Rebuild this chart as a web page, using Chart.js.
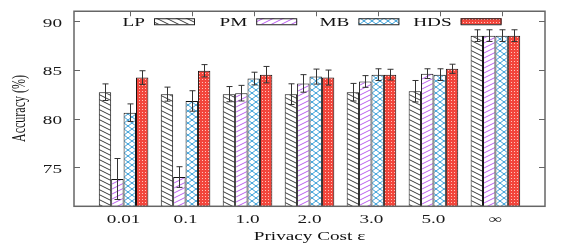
<!DOCTYPE html>
<html><head><meta charset="utf-8">
<script src="https://cdn.jsdelivr.net/npm/chart.js@4.4.0/dist/chart.umd.min.js"></script>
<style>html,body{margin:0;padding:0;background:#fff;overflow:hidden;}</style>
</head><body>
<canvas id="c" width="581" height="245" style="width:581px;height:245px;display:block"></canvas>
<script>
// ---- data ----
const categories = ['0.01', '0.1', '1.0', '2.0', '3.0', '5.0', '∞'];
const seriesNames = ['LP', 'PM', 'MB', 'HDS'];
const lpValues  = [82.7, 82.5, 82.5, 82.5, 82.7, 82.8, 88.5];
const pmValues  = [73.8, 74.0, 82.6, 83.6, 83.8, 84.6, 88.5];
const mbValues  = [80.6, 81.8, 84.1, 84.3, 84.5, 84.5, 88.5];
const hdsValues = [84.2, 84.9, 84.5, 84.2, 84.5, 85.1, 88.5];
const lpErrors  = [0.85, 0.72, 0.78, 1.06, 0.90, 1.10, 0.60];
const pmErrors  = [2.10, 1.06, 0.80, 0.90, 0.60, 0.50, 0.60];
const mbErrors  = [0.90, 1.05, 0.65, 0.77, 0.60, 0.60, 0.60];
const hdsErrors = [0.70, 0.63, 0.84, 0.77, 0.55, 0.47, 0.60];
const yTickValues = [75, 80, 85, 90];
const xAxisTitle = 'Privacy Cost ε';
const yAxisTitle = 'Accuracy (%)';

const seriesValues = [lpValues, pmValues, mbValues, hdsValues];
const seriesErrors = [lpErrors, pmErrors, mbErrors, hdsErrors];

const canvas = document.getElementById('c');
const ctx = canvas.getContext('2d');
const FONT = '12px "Liberation Serif"';
const STRETCH = 1.6;

// ---- fill patterns ----
function makePattern(kind) {
  const t = document.createElement('canvas');
  let w, h;
  if (kind === 'lp' || kind === 'pm') { w = 10; h = 5; }
  else if (kind === 'mb') { w = 8; h = 6; }
  else { w = 3; h = 3; }
  t.width = w; t.height = h;
  const g = t.getContext('2d');
  g.fillStyle = '#ffffff';
  g.fillRect(0, 0, w, h);
  g.lineWidth = 1;
  const diag = (dir, color) => {
    g.strokeStyle = color;
    for (let o = -w; o <= w; o += w) {
      g.beginPath();
      if (dir > 0) { g.moveTo(o - w, -h); g.lineTo(o + 2 * w, 2 * h); }
      else { g.moveTo(o - w, 2 * h); g.lineTo(o + 2 * w, -h); }
      g.stroke();
    }
  };
  if (kind === 'lp') diag(1, '#3a3a3a');
  else if (kind === 'pm') diag(-1, '#bb5cf0');
  else if (kind === 'mb') { diag(1, '#3a9fd8'); diag(-1, '#3a9fd8'); }
  else {
    g.fillStyle = '#f2463c';
    g.fillRect(0, 0, w, h);
    g.fillStyle = '#ffc4bc';
    g.fillRect(1, 1, 1, 1);
  }
  return ctx.createPattern(t, 'repeat');
}
const patterns = [makePattern('lp'), makePattern('pm'), makePattern('mb'), makePattern('hds')];

function stretchedText(c, text, x, y, align) {
  c.save();
  c.textAlign = align;
  c.translate(x, y);
  c.scale(STRETCH, 1);
  c.fillText(text, 0, 0);
  c.restore();
}

// ---- plugins ----
const errorBars = {
  id: 'errorBars',
  afterDatasetsDraw(chart) {
    const c = chart.ctx;
    const ys = chart.scales.y;
    c.save();
    c.strokeStyle = '#333';
    c.lineWidth = 1;
    chart.data.datasets.forEach((ds, k) => {
      const meta = chart.getDatasetMeta(k);
      meta.data.forEach((bar, i) => {
        const v = seriesValues[k][i], e = seriesErrors[k][i];
        const x = Math.round(bar.x) + 0.5;
        const yt = ys.getPixelForValue(v + e);
        const yb = ys.getPixelForValue(v - e);
        c.beginPath();
        c.moveTo(x, yt); c.lineTo(x, yb);
        c.moveTo(x - 3, yt); c.lineTo(x + 3, yt);
        c.moveTo(x - 3, yb); c.lineTo(x + 3, yb);
        c.stroke();
      });
    });
    c.restore();
  }
};

const frame = {
  id: 'frame',
  afterDraw(chart) {
    const c = chart.ctx;
    const a = chart.chartArea;
    const xs = chart.scales.x, ys = chart.scales.y;
    c.save();
    c.strokeStyle = '#666';
    c.lineWidth = 1.5;
    c.strokeRect(a.left, a.top, a.right - a.left, a.bottom - a.top);
    c.lineWidth = 1;
    c.beginPath();
    ys.ticks.forEach(t => {
      const y = Math.round(ys.getPixelForValue(t.value)) + 0.5;
      c.moveTo(a.left, y); c.lineTo(a.left + 6, y);
      c.moveTo(a.right, y); c.lineTo(a.right - 6, y);
    });
    xs.ticks.forEach(t => {
      const x = Math.round(xs.getPixelForValue(t.value + 0.1)) + 0.5;
      c.moveTo(x, a.top); c.lineTo(x, a.top + 5);
    });
    c.stroke();

    c.font = FONT;
    c.fillStyle = '#1a1a1a';
    c.textBaseline = 'alphabetic';

    // tick labels from the library's scales
    xs.ticks.forEach(t => {
      const lbl = t.label !== undefined && t.label !== '' ? t.label : categories[t.value];
      stretchedText(c, String(lbl), xs.getPixelForValue(t.value), 222.5, 'center');
    });
    ys.ticks.forEach(t => {
      const lbl = t.label !== undefined && t.label !== '' ? t.label : String(t.value);
      stretchedText(c, String(lbl), 62, ys.getPixelForValue(t.value) + 5.5, 'right');
    });

    // legend (label left of swatch, inside plot area)
    seriesNames.forEach((name, k) => {
      const sx = a.left + 80 + k * 102.2;
      const sy = a.top + 7;
      c.fillStyle = '#111';
      stretchedText(c, name, sx - 9, a.top + 15, 'right');
      c.fillStyle = patterns[k];
      c.fillRect(sx, sy, 41, 6);
      c.strokeStyle = '#222';
      c.strokeRect(sx + 0.5, sy + 0.5, 40, 6);
    });

    // axis titles
    c.fillStyle = '#111';
    stretchedText(c, xAxisTitle, (a.left + a.right) / 2, 239.5, 'center');

    c.save();
    c.textAlign = 'center';
    c.translate(25, 108.5);
    c.rotate(-Math.PI / 2);
    c.scale(1, STRETCH);
    c.fillText(yAxisTitle, 0, 0);
    c.restore();

    c.restore();
  }
};

new Chart(ctx, {
  type: 'bar',
  data: {
    datasets: seriesNames.map((name, k) => ({
      label: name,
      data: categories.map((cat, i) => ({ x: i, y: seriesValues[k][i] })),
      backgroundColor: patterns[k],
      borderColor: '#111',
      borderWidth: 1,
      borderSkipped: 'start',
      categoryPercentage: 0.8,
      barPercentage: 1.0
    }))
  },
  options: {
    responsive: false,
    animation: false,
    devicePixelRatio: 1,
    layout: { padding: { top: 11.25, right: 36, left: 0, bottom: 0 } },
    plugins: { legend: { display: false }, tooltip: { enabled: false } },
    scales: {
      x: {
        type: 'linear', min: -0.8, max: 6.8, offset: false,
        grid: { display: false, drawTicks: false },
        border: { display: false },
        afterBuildTicks: (s) => { s.ticks = categories.map((c, i) => ({ value: i })); },
        ticks: {
          display: false,
          callback: (v) => categories[v] !== undefined ? categories[v] : '',
          maxRotation: 0, minRotation: 0, autoSkip: false
        },
        afterFit: (s) => { s.height = 245 - 206.3; }
      },
      y: {
        min: 71, max: 91,
        grid: { display: false, drawTicks: false },
        border: { display: false },
        afterBuildTicks: (s) => { s.ticks = yTickValues.map(v => ({ value: v })); },
        ticks: { display: false, callback: (v) => String(v) },
        afterFit: (s) => { s.width = 74; }
      }
    }
  },
  plugins: [errorBars, frame]
});
</script>
</body></html>
